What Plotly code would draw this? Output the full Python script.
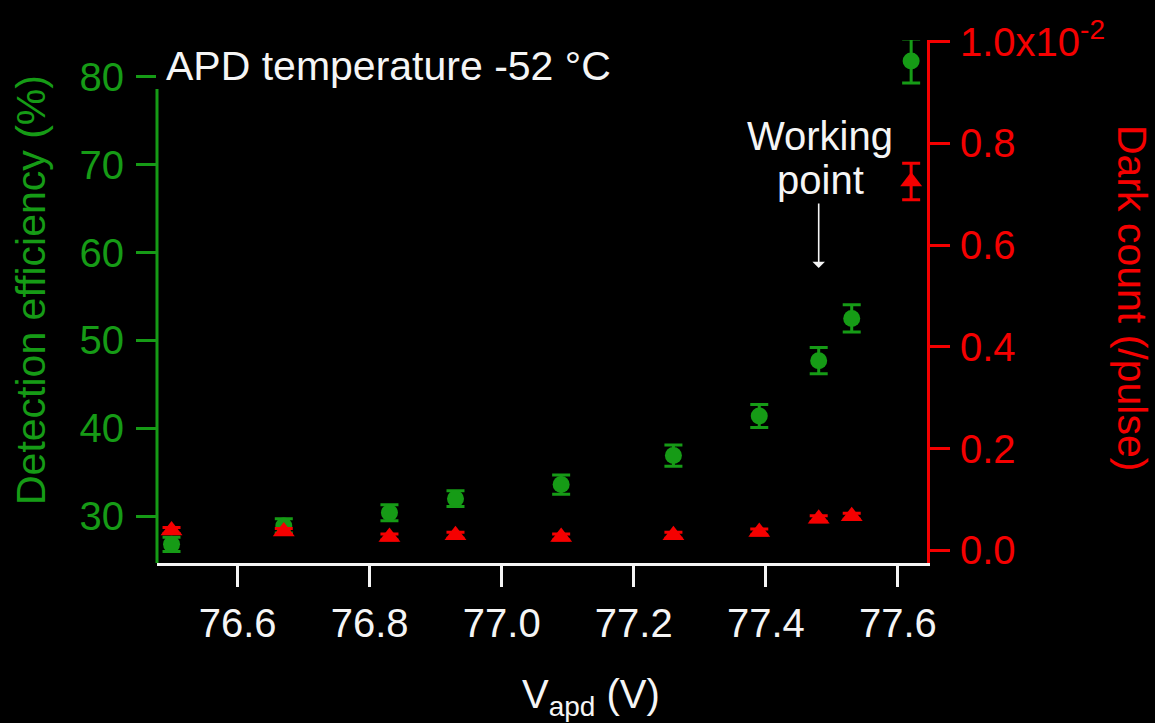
import plotly.graph_objects as go

# ---- data ----
v_apd = [76.50, 76.67, 76.83, 76.93, 77.09, 77.26, 77.39, 77.48, 77.53, 77.62]
det_eff = [26.8, 28.9, 30.4, 32.0, 33.6, 36.9, 41.4, 47.7, 52.5, 81.8]
det_eff_err = [0.8, 0.8, 0.9, 0.9, 1.1, 1.2, 1.3, 1.5, 1.55, 2.5]
dark_count_e2 = [0.039, 0.037, 0.026, 0.0295, 0.026, 0.0295, 0.036, 0.062, 0.067, 0.725]
dark_count_err_e2 = [0.006, 0.006, 0.006, 0.006, 0.006, 0.006, 0.006, 0.006, 0.006, 0.036]

x_ticks = [76.6, 76.8, 77.0, 77.2, 77.4, 77.6]
y_ticks = [30, 40, 50, 60, 70, 80]
y2_ticks = [0.0, 0.2, 0.4, 0.6, 0.8, 1.0]
y2_ticktext = ["0.0", "0.2", "0.4", "0.6", "0.8", "1.0x10<sup>-2</sup>"]

GREEN = "rgb(22,155,22)"
RED = "rgb(245,0,0)"
WHITE = "rgb(245,245,245)"
FONT = "Liberation Sans, Arial, sans-serif"

W, H = 1155, 723
ML, MR, MT, MB = 157, 228, 40, 160
PW, PH = W - ML - MR, H - MT - MB


def px(x):
    return (x - ML) / PW


def py(y):
    return (H - MB - y) / PH


fig = go.Figure()
fig.add_trace(go.Scatter(
    x=v_apd, y=det_eff, mode="markers",
    marker=dict(symbol="circle", size=17, color=GREEN),
    error_y=dict(type="data", array=det_eff_err, color=GREEN, thickness=3, width=9),
    showlegend=False, cliponaxis=False,
))
fig.add_trace(go.Scatter(
    x=v_apd, y=dark_count_e2, mode="markers", yaxis="y2",
    marker=dict(symbol="triangle-up", size=19, color=RED),
    error_y=dict(type="data", array=dark_count_err_e2, color=RED, thickness=3, width=9),
    showlegend=False, cliponaxis=False,
))

fig.update_layout(
    width=W, height=H,
    margin=dict(l=ML, r=MR, t=MT, b=MB, pad=0),
    paper_bgcolor="black", plot_bgcolor="black",
    font=dict(family=FONT, color=WHITE),
    xaxis=dict(
        range=[76.478, 77.644], tickmode="array", tickvals=x_ticks,
        ticktext=[f"{v:.1f}" for v in x_ticks],
        showline=True, linecolor=WHITE, linewidth=3,
        ticks="outside", ticklen=21, tickwidth=3, tickcolor=WHITE,
        tickfont=dict(size=40, color=WHITE, family=FONT),
        ticklabelstandoff=2,
        showgrid=False, zeroline=False,
    ),
    yaxis=dict(
        range=[24.68, 84.18], tickmode="array", tickvals=y_ticks,
        showline=False,
        ticks="outside", ticklen=20, tickwidth=3, tickcolor=GREEN,
        tickfont=dict(size=40, color=GREEN, family=FONT),
        ticklabelstandoff=4,
        showgrid=False, zeroline=False,
    ),
    yaxis2=dict(
        range=[-0.025, 1.0033], overlaying="y", side="right",
        tickmode="array", tickvals=y2_ticks, ticktext=y2_ticktext,
        showline=True, linecolor=RED, linewidth=3,
        ticks="outside", ticklen=20, tickwidth=3, tickcolor=RED,
        tickfont=dict(size=40, color=RED, family=FONT),
        ticklabelstandoff=2,
        showgrid=False, zeroline=False,
    ),
    shapes=[dict(type="line", xref="paper", yref="y", x0=0, x1=0, y0=24.68, y1=78.6,
                 line=dict(color=GREEN, width=3))],
    annotations=[
        dict(text="APD temperature -52 °C", xref="paper", yref="paper",
             x=px(164), y=py(66), xanchor="left", yanchor="middle", showarrow=False,
             font=dict(size=41, color=WHITE, family=FONT)),
        dict(text="Working", xref="paper", yref="paper",
             x=px(820), y=py(136), xanchor="center", yanchor="middle", showarrow=False,
             font=dict(size=40, color=WHITE, family=FONT)),
        dict(text="point", xref="paper", yref="paper",
             x=px(820), y=py(180), xanchor="center", yanchor="middle", showarrow=False,
             font=dict(size=40, color=WHITE, family=FONT)),
        dict(text="", xref="x", yref="paper", x=77.48, y=py(268),
             showarrow=True, ax=0, ay=-66, arrowhead=1, arrowsize=1.3,
             arrowwidth=1.6, arrowcolor=WHITE),
        dict(text="Detection efficiency (%)", xref="paper", yref="paper",
             x=px(31), y=py(290), xanchor="center", yanchor="middle", textangle=-90,
             showarrow=False, font=dict(size=41, color=GREEN, family=FONT)),
        dict(text="Dark count (/pulse)", xref="paper", yref="paper",
             x=px(1132), y=py(298), xanchor="center", yanchor="middle", textangle=90,
             showarrow=False, font=dict(size=41, color=RED, family=FONT)),
        dict(text="V<sub>apd</sub> (V)", xref="paper", yref="paper",
             x=px(591), y=py(697), xanchor="center", yanchor="middle",
             showarrow=False, font=dict(size=40, color=WHITE, family=FONT)),
    ],
)

fig.write_html("out.html")
